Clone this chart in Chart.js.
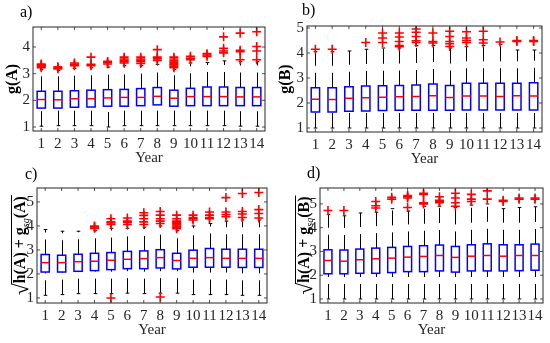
<!DOCTYPE html>
<html>
<head>
<meta charset="utf-8">
<script src="https://cdn.jsdelivr.net/npm/chart.js@4.4.1/dist/chart.umd.min.js"></script>
<style>
  body { margin: 0; background: #fff; }
  #wrap { position: relative; width: 550px; height: 343px; }
  canvas { position: absolute; left: 0; top: 0; }
</style>
</head>
<body>
<div id="wrap">
  <canvas id="pa" width="550" height="343"></canvas>
  <canvas id="pb" width="550" height="343"></canvas>
  <canvas id="pc" width="550" height="343"></canvas>
  <canvas id="pd" width="550" height="343"></canvas>
</div>
<script>
const years = [1, 2, 3, 4, 5, 6, 7, 8, 9, 10, 11, 12, 13, 14];
const ticksA = [1, 2, 3, 4];
const ticks5 = [1, 2, 3, 4, 5];

// a) g(A)
const aLo  = [1.03, 1.05, 1.05, 1.05, 1.0, 1.05, 1.05, 1.05, 1.05, 1.05, 1.05, 1.05, 1.03, 1.03];
const aQ1  = [1.71, 1.71, 1.74, 1.75, 1.78, 1.78, 1.8, 1.83, 1.78, 1.8, 1.8, 1.8, 1.8, 1.8];
const aMed = [2.03, 2.02, 2.06, 2.06, 2.09, 2.11, 2.11, 2.15, 2.08, 2.14, 2.14, 2.14, 2.13, 2.13];
const aQ3  = [2.34, 2.34, 2.36, 2.38, 2.4, 2.41, 2.44, 2.48, 2.38, 2.45, 2.5, 2.5, 2.48, 2.48];
const aHi  = [3.15, 3.12, 3.2, 3.22, 3.25, 3.3, 3.3, 3.35, 3.15, 3.4, 3.42, 3.48, 3.45, 3.45];
const aOut = [
  [3.22, 3.27, 3.3, 3.33, 3.36], [3.18, 3.22, 3.26], [3.3, 3.35, 3.4], [3.3, 3.35, 3.62],
  [3.36, 3.42, 3.46], [3.4, 3.45, 3.5, 3.55, 3.62], [3.38, 3.45, 3.5, 3.55, 3.62],
  [3.5, 3.56, 3.62, 3.9], [3.22, 3.28, 3.33, 3.38, 3.43, 3.48, 3.55, 3.62],
  [3.52, 3.58, 3.65], [3.65, 3.7, 3.75], [3.78, 3.85, 3.95, 4.38],
  [3.52, 3.82, 3.88, 4.52], [3.52, 3.85, 4.02, 4.57]
];

// b) g(B)
const bLo  = [1.0, 1.0, 1.0, 1.0, 1.0, 1.0, 1.0, 1.0, 1.0, 1.0, 1.0, 1.0, 1.0, 1.0];
const bQ1  = [1.64, 1.64, 1.67, 1.68, 1.7, 1.71, 1.71, 1.71, 1.71, 1.72, 1.72, 1.72, 1.72, 1.72];
const bMed = [2.15, 2.14, 2.19, 2.21, 2.23, 2.25, 2.26, 2.29, 2.22, 2.28, 2.28, 2.26, 2.29, 2.28];
const bQ3  = [2.61, 2.61, 2.65, 2.68, 2.69, 2.7, 2.72, 2.76, 2.7, 2.79, 2.79, 2.79, 2.79, 2.81];
const bHi  = [4.05, 4.05, 4.08, 4.15, 4.2, 4.2, 4.3, 4.3, 4.2, 4.25, 4.3, 4.35, 4.12, 4.12];
const bOut = [
  [4.15], [4.15], [], [4.42], [4.42, 4.6, 4.8], [4.25, 4.3, 4.46, 4.64, 4.8],
  [4.42, 4.49, 4.66, 4.83, 4.96], [4.4, 4.46, 4.8], [4.26, 4.37, 4.46, 4.66, 4.87],
  [4.42, 4.5, 4.6, 4.85], [4.4, 4.53, 4.87], [4.44], [4.46, 4.5], [4.46, 4.5]
];

// c) sqrt(h(A) + g_sq(A))
const cLo  = [1.11, 1.14, 1.18, 1.18, 1.18, 1.2, 1.18, 1.2, 1.2, 1.14, 1.14, 1.14, 1.11, 1.11];
const cQ1  = [2.08, 2.08, 2.11, 2.14, 2.18, 2.22, 2.22, 2.25, 2.21, 2.28, 2.28, 2.28, 2.27, 2.27];
const cMed = [2.47, 2.47, 2.51, 2.53, 2.57, 2.61, 2.64, 2.68, 2.56, 2.65, 2.68, 2.65, 2.65, 2.65];
const cQ3  = [2.81, 2.78, 2.82, 2.86, 2.89, 2.94, 2.96, 3.01, 2.86, 2.99, 3.06, 3.03, 3.03, 3.03];
const cHi  = [3.85, 3.78, 3.78, 3.8, 3.9, 3.9, 3.95, 4.0, 3.8, 4.0, 4.1, 4.2, 4.25, 4.25];
const cOut = [
  [], [], [], [3.9, 3.96, 4.0], [1.0, 4.06, 4.12, 4.17, 4.3], [4.06, 4.14, 4.2, 4.33],
  [4.06, 4.17, 4.3, 4.44, 4.55], [1.04, 4.1, 4.2, 4.3, 4.45, 4.6],
  [3.88, 3.95, 4.0, 4.05, 4.1, 4.15, 4.2, 4.3, 4.45], [4.25, 4.3, 4.35, 4.45],
  [4.3, 4.35, 4.45, 4.58], [4.38, 4.47, 4.58, 5.18], [4.35, 4.5, 4.6, 5.35], [4.33, 4.52, 4.68, 5.39]
];

// d) sqrt(h(A) + g_sq(B))
const dLo  = [1.0, 1.0, 1.0, 1.0, 1.0, 1.0, 1.0, 1.0, 1.0, 1.0, 1.0, 1.0, 1.0, 1.0];
const dQ1  = [2.06, 2.06, 2.08, 2.08, 2.11, 2.15, 2.15, 2.18, 2.13, 2.18, 2.18, 2.18, 2.19, 2.21];
const dMed = [2.62, 2.59, 2.65, 2.69, 2.72, 2.76, 2.79, 2.83, 2.75, 2.8, 2.83, 2.8, 2.83, 2.83];
const dQ3  = [3.07, 3.06, 3.1, 3.14, 3.17, 3.21, 3.24, 3.27, 3.21, 3.28, 3.32, 3.28, 3.28, 3.31];
const dHi  = [4.55, 4.5, 4.62, 4.65, 4.8, 4.7, 4.9, 4.9, 4.85, 4.95, 5.0, 4.8, 4.85, 4.88];
const dOut = [
  [4.72], [4.72], [], [4.83, 4.92, 5.1], [5.2, 5.28], [4.85, 5.25, 5.3, 5.35],
  [5.0, 5.05, 5.4, 5.45], [5.05, 5.1, 5.15, 5.3], [4.9, 5.05, 5.25, 5.45],
  [5.1, 5.2, 5.4], [5.2, 5.55], [5.1, 5.15], [5.2, 5.25], [5.2, 5.25]
];

const FONT = "'Liberation Serif', 'DejaVu Serif', serif";
const INK = '#262626';

// box, whiskers and medians, drawn from the scales
function boxPlugin(p) {
  return {
    id: 'boxes',
    beforeDatasetsDraw(chart) {
      const { ctx, scales: { x, y } } = chart;
      ctx.save();
      years.forEach((yr, i) => {
        const xc = x.getPixelForValue(yr);
        const xw = Math.round(xc) + 0.5;
        const hw = x.getPixelForValue(yr + 0.25) - xc;
        const cw = x.getPixelForValue(yr + 0.11) - xc;
        const lo = y.getPixelForValue(p.lo[i]);
        const q1 = y.getPixelForValue(p.q1[i]);
        const md = y.getPixelForValue(p.med[i]);
        const q3 = y.getPixelForValue(p.q3[i]);
        const hi = y.getPixelForValue(p.hi[i]);

        ctx.strokeStyle = '#000';
        ctx.lineWidth = 1;
        ctx.setLineDash([15, 7]);
        ctx.beginPath();
        ctx.moveTo(xw, lo); ctx.lineTo(xw, q1);
        ctx.moveTo(xw, q3); ctx.lineTo(xw, hi);
        ctx.stroke();
        ctx.setLineDash([]);
        ctx.beginPath();
        ctx.moveTo(xw - cw, lo); ctx.lineTo(xw + cw, lo);
        ctx.moveTo(xw - cw, hi); ctx.lineTo(xw + cw, hi);
        ctx.stroke();

        ctx.strokeStyle = '#0000ff';
        ctx.lineWidth = 1.5;
        ctx.strokeRect(xc - hw, q3, 2 * hw, q1 - q3);

        ctx.strokeStyle = '#ff0000';
        ctx.beginPath();
        ctx.moveTo(xc - hw, md); ctx.lineTo(xc + hw, md);
        ctx.stroke();
      });
      ctx.restore();
    }
  };
}

function drawYLabel(ctx, bx, cy, parts, radical) {
  ctx.save();
  ctx.translate(bx, cy);
  ctx.rotate(-Math.PI / 2);
  ctx.fillStyle = '#000';
  ctx.textBaseline = 'alphabetic';
  ctx.textAlign = 'left';
  let w = 0;
  let rw = 0, rasc = 0;
  if (radical) {
    ctx.font = '21px ' + FONT;
    const m = ctx.measureText('\u221A');
    rw = m.width; rasc = m.actualBoundingBoxAscent;
    w += rw;
  }
  parts.forEach(pt => { ctx.font = pt.f; w += ctx.measureText(pt.t).width; });
  let xx = -w / 2;
  if (radical) {
    ctx.font = '21px ' + FONT;
    ctx.fillText('\u221A', xx, 3);
    ctx.lineWidth = 1;
    ctx.strokeStyle = '#000';
    ctx.beginPath();
    ctx.moveTo(xx + rw - 1, 3 - rasc + 0.5);
    ctx.lineTo(w / 2 + 1, 3 - rasc + 0.5);
    ctx.stroke();
    xx += rw;
  }
  parts.forEach(pt => {
    ctx.font = pt.f;
    ctx.fillText(pt.t, xx, pt.dy || 0);
    xx += ctx.measureText(pt.t).width;
  });
  ctx.restore();
}

// axes box, inward ticks and the titles
function framePlugin(p) {
  return {
    id: 'frame',
    afterDraw(chart) {
      const { ctx, chartArea: a, scales: { x, y } } = chart;
      ctx.save();
      ctx.strokeStyle = INK;
      ctx.lineWidth = 1;
      ctx.strokeRect(a.left, a.top, a.right - a.left, a.bottom - a.top);
      ctx.lineWidth = 0.8;
      ctx.beginPath();
      years.forEach(v => {
        const px = x.getPixelForValue(v);
        ctx.moveTo(px, a.bottom); ctx.lineTo(px, a.bottom - 3);
        ctx.moveTo(px, a.top); ctx.lineTo(px, a.top + 3);
      });
      p.ticks.forEach(v => {
        const py = y.getPixelForValue(v);
        ctx.moveTo(a.left, py); ctx.lineTo(a.left + 3, py);
        ctx.moveTo(a.right, py); ctx.lineTo(a.right - 3, py);
      });
      ctx.stroke();

      ctx.fillStyle = '#000';
      ctx.font = '16px ' + FONT;
      ctx.textAlign = 'left';
      ctx.textBaseline = 'alphabetic';
      ctx.fillText(p.letter, p.letterX, p.letterY);

      ctx.fillStyle = INK;
      ctx.font = '15px ' + FONT;
      ctx.textAlign = 'center';
      ctx.textBaseline = 'middle';
      ctx.fillText('Year', (a.left + a.right) / 2, a.bottom + 27);

      drawYLabel(ctx, p.labelX, (a.top + a.bottom) / 2, p.label, p.radical);
      ctx.restore();
    }
  };
}

function panel(id, p) {
  const pts = [];
  p.out.forEach((vals, i) => vals.forEach(v => pts.push({ x: years[i], y: v })));
  new Chart(document.getElementById(id), {
    type: 'scatter',
    data: {
      datasets: [{
        data: pts,
        pointStyle: 'cross',
        radius: 4.5,
        borderColor: '#ff0000',
        borderWidth: 1.6
      }]
    },
    options: {
      responsive: false,
      animation: false,
      events: [],
      layout: { padding: p.pad },
      plugins: { legend: { display: false }, tooltip: { enabled: false } },
      scales: {
        x: {
          type: 'linear', min: 0.5, max: 14.5,
          grid: { display: false, drawTicks: false },
          border: { display: false },
          afterBuildTicks: s => { s.ticks = years.map(v => ({ value: v })); },
          afterFit: s => { s.height = 30; },
          ticks: { autoSkip: false, maxRotation: 0, padding: 4, color: INK, font: { family: FONT, size: 15 } }
        },
        y: {
          type: 'linear', min: p.min, max: p.max,
          grid: { display: false, drawTicks: false },
          border: { display: false },
          afterBuildTicks: s => { s.ticks = p.ticks.map(v => ({ value: v })); },
          afterFit: s => { s.width = 30; },
          ticks: { padding: 3, color: INK, font: { family: FONT, size: 15 } }
        }
      }
    },
    plugins: [boxPlugin(p), framePlugin(p)]
  });
}

const bold = 'bold 16px ' + FONT;
const sub = 'italic 10px ' + FONT;

panel('pa', {
  lo: aLo, q1: aQ1, med: aMed, q3: aQ3, hi: aHi, out: aOut,
  min: 0.85, max: 4.75, ticks: ticksA,
  pad: { left: 3, right: 285, top: 27, bottom: 182 },
  letter: 'a)', letterX: 20, letterY: 17,
  labelX: 17, label: [{ t: 'g(A)', f: bold }], radical: false
});
panel('pb', {
  lo: bLo, q1: bQ1, med: bMed, q3: bQ3, hi: bHi, out: bOut,
  min: 0.84, max: 5.08, ticks: ticks5,
  pad: { left: 277, right: 8, top: 26, bottom: 181 },
  letter: 'b)', letterX: 302, letterY: 15,
  labelX: 290, label: [{ t: 'g(B)', f: bold }], radical: false
});
panel('pc', {
  lo: cLo, q1: cQ1, med: cMed, q3: cQ3, hi: cHi, out: cOut,
  min: 0.79, max: 5.58, ticks: ticks5,
  pad: { left: 7, right: 283, top: 188, bottom: 10 },
  letter: 'c)', letterX: 25, letterY: 179,
  labelX: 25, label: [{ t: 'h(A) + g', f: bold }, { t: 'sq', f: sub, dy: 4 }, { t: '(A)', f: bold }], radical: true
});
panel('pd', {
  lo: dLo, q1: dQ1, med: dMed, q3: dQ3, hi: dHi, out: dOut,
  min: 0.83, max: 5.67, ticks: ticks5,
  pad: { left: 290, right: 7, top: 188, bottom: 10 },
  letter: 'd)', letterX: 307, letterY: 178,
  labelX: 309, label: [{ t: 'h(A) + g', f: bold }, { t: 'sq', f: sub, dy: 4 }, { t: '(B)', f: bold }], radical: true
});
</script>
</body>
</html>
